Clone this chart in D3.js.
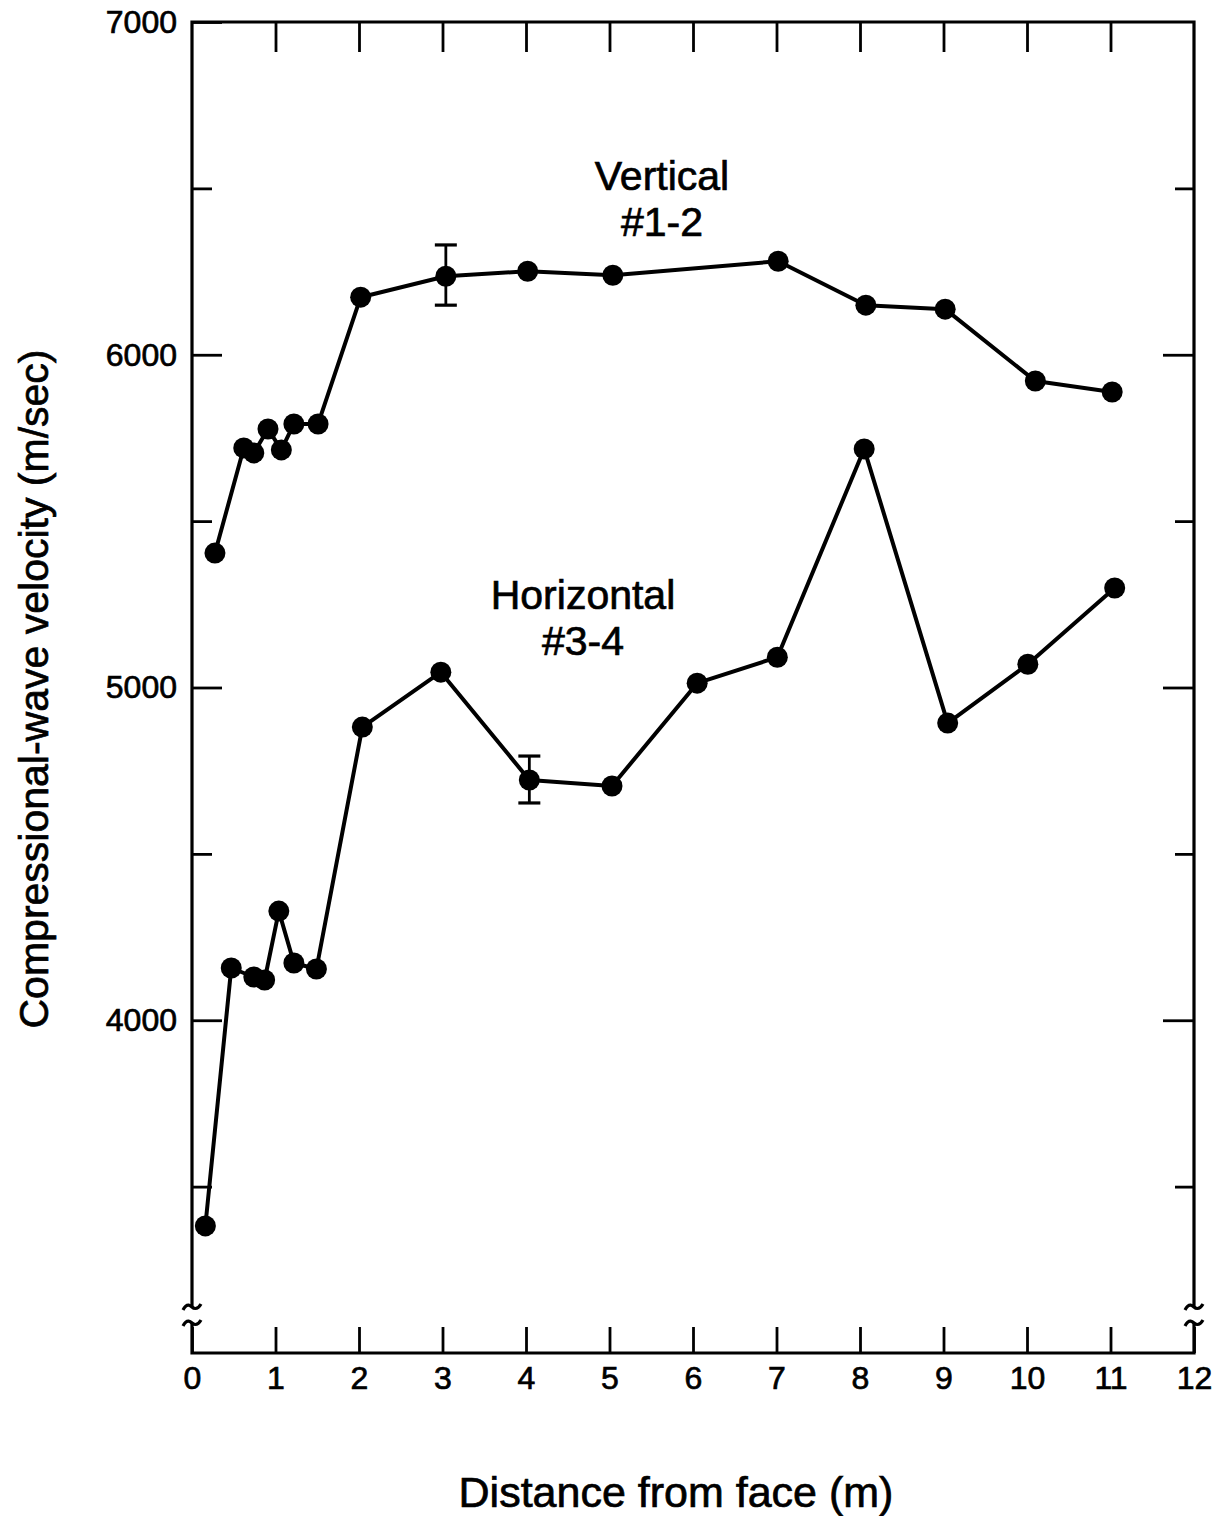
<!DOCTYPE html>
<html>
<head>
<meta charset="utf-8">
<script src="https://cdn.jsdelivr.net/npm/d3@7"></script>
<style>
  body { margin: 0; background: #fff; }
  text { font-family: "Liberation Sans", Arial, Helvetica, sans-serif; fill: #000; stroke: #000; stroke-width: 0.7px; }
</style>
</head>
<body>
<div id="chart"></div>
<script>
// distancia (m) y velocidad (m/s)
const vertX = [0.275, 0.62, 0.74, 0.91, 1.07, 1.22, 1.51, 2.02, 3.04, 4.02, 5.04, 7.02, 8.07, 9.02, 10.1, 11.02];
const vertY = [5404, 5720, 5705, 5777, 5714, 5792, 5792, 6173, 6236, 6251, 6239, 6281, 6149, 6137, 5921, 5888];
const horzX = [0.16, 0.47, 0.74, 0.87, 1.04, 1.22, 1.49, 2.04, 2.98, 4.04, 5.03, 6.05, 7.01, 8.05, 9.05, 10.01, 11.05];
const horzY = [3382, 4157, 4130, 4121, 4328, 4172, 4154, 4881, 5046, 4722, 4704, 5013, 5091, 5717, 4893, 5070, 5299];

// barras de error: [x, min, max]
const errVert = [3.04, 6149, 6330];
const errHorz = [4.04, 4653, 4794];

const xTicks = [0, 1, 2, 3, 4, 5, 6, 7, 8, 9, 10, 11, 12];
const yMajor = [4000, 5000, 6000, 7000];
const yMinor = [3500, 4500, 5500, 6500];

const W = 1222, H = 1516;
const mLeft = 192, mRight = 1194, mTop = 22, mBottom = 1353;

const svg = d3.select("#chart")
    .append("svg")
    .attr("width", W)
    .attr("height", H);

const x = d3.scaleLinear().domain([0, 12]).range([mLeft, mRight]);
const y = d3.scaleLinear().domain([3000, 7000]).range([mBottom, mTop]);

// ejes con marcas hacia dentro
const gB = svg.append("g")
    .attr("transform", "translate(0," + mBottom + ")")
    .call(d3.axisBottom(x).tickValues(xTicks).tickSizeInner(-26).tickSizeOuter(0).tickPadding(13).tickFormat(d3.format("d")));
const gT = svg.append("g")
    .attr("transform", "translate(0," + mTop + ")")
    .call(d3.axisTop(x).tickValues(xTicks.slice(1, -1)).tickSizeInner(-30).tickSizeOuter(0).tickFormat(""));
const gL = svg.append("g")
    .attr("transform", "translate(" + mLeft + ",0)")
    .call(d3.axisLeft(y).tickValues(yMajor).tickSizeInner(-30).tickSizeOuter(0).tickPadding(15).tickFormat(d3.format("d")));
const gLm = svg.append("g")
    .attr("transform", "translate(" + mLeft + ",0)")
    .call(d3.axisLeft(y).tickValues(yMinor).tickSizeInner(-20).tickSizeOuter(0).tickFormat(""));
const gR = svg.append("g")
    .attr("transform", "translate(" + mRight + ",0)")
    .call(d3.axisRight(y).tickValues(yMajor.slice(0, -1)).tickSizeInner(-31).tickSizeOuter(0).tickFormat(""));
const gRm = svg.append("g")
    .attr("transform", "translate(" + mRight + ",0)")
    .call(d3.axisRight(y).tickValues(yMinor).tickSizeInner(-19).tickSizeOuter(0).tickFormat(""));

[gB, gT, gL, gLm, gR, gRm].forEach(g => {
    g.select(".domain").remove();
    g.selectAll(".tick line").attr("stroke", "#000").attr("stroke-width", 2.8);
    g.selectAll(".tick text").style("font-size", "32px").attr("fill", "#000");
});

// marco con cortes en el eje y
const brk1 = 1307, brk2 = 1323;
const frame = svg.append("g").attr("fill", "none").attr("stroke", "#000").attr("stroke-width", 3.2);
frame.append("path").attr("d", "M" + mLeft + "," + brk1 + "V" + mTop + "H" + mRight + "V" + brk1);
frame.append("path").attr("d", "M" + mLeft + "," + brk2 + "V" + mBottom + "H" + mRight + "V" + brk2);
[mLeft, mRight].forEach(px => {
    [brk1, brk2].forEach(py => {
        frame.append("path")
            .attr("stroke-width", 3.2)
            .attr("d", "M" + (px - 9) + "," + (py + 3) +
                " C" + (px - 5) + "," + (py - 5) + " " + (px - 1) + "," + (py - 1) + " " + px + "," + py +
                " S" + (px + 5) + "," + (py + 4) + " " + (px + 9) + "," + (py - 3));
    });
});

// series
const line = d3.line().x(d => x(d[0])).y(d => y(d[1]));
const series = [d3.zip(vertX, vertY), d3.zip(horzX, horzY)];

series.forEach(s => {
    svg.append("path")
        .datum(s)
        .attr("fill", "none")
        .attr("stroke", "#000")
        .attr("stroke-width", 4)
        .attr("stroke-linejoin", "round")
        .attr("d", line);
});

[errVert, errHorz].forEach(e => {
    const g = svg.append("g").attr("stroke", "#000").attr("stroke-width", 2.8);
    g.append("line").attr("x1", x(e[0])).attr("x2", x(e[0])).attr("y1", y(e[1])).attr("y2", y(e[2]));
    [e[1], e[2]].forEach(v => {
        g.append("line").attr("x1", x(e[0]) - 11).attr("x2", x(e[0]) + 11).attr("y1", y(v)).attr("y2", y(v)).attr("stroke-width", 3.2);
    });
});

series.forEach(s => {
    svg.append("g").selectAll("circle")
        .data(s)
        .enter()
        .append("circle")
        .attr("cx", d => x(d[0]))
        .attr("cy", d => y(d[1]))
        .attr("r", 10.5)
        .attr("fill", "#000");
});

// rotulos de las series, dos lineas
const lab2 = (lines, px, py) => {
    const t = svg.append("text")
        .attr("x", px).attr("y", py)
        .attr("text-anchor", "middle")
        .style("font-size", "41px");
    lines.forEach((l, i) => t.append("tspan").attr("x", px).attr("dy", i ? 46 : 0).text(l));
};
lab2(["Vertical", "#1-2"], 662, 190);
lab2(["Horizontal", "#3-4"], 583, 609);

svg.append("text")
    .attr("x", 676).attr("y", 1507)
    .attr("text-anchor", "middle")
    .style("font-size", "43px")
    .text("Distance from face (m)");

svg.append("text")
    .attr("transform", "translate(48,689) rotate(-90)")
    .attr("text-anchor", "middle")
    .style("font-size", "41px")
    .text("Compressional-wave velocity (m/sec)");
</script>
</body>
</html>
